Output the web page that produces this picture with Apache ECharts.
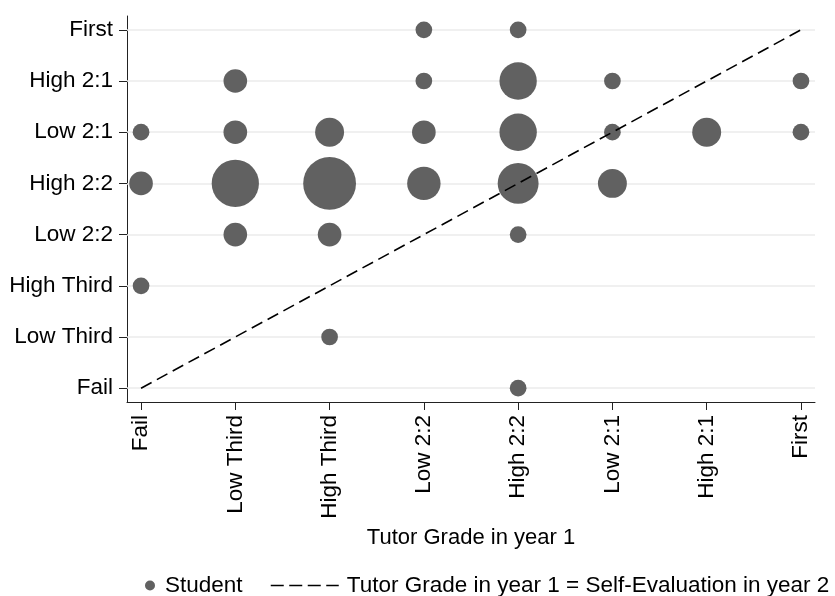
<!DOCTYPE html>
<html>
<head>
<meta charset="utf-8">
<script src="https://cdn.jsdelivr.net/npm/echarts@6/dist/echarts.min.js"></script>
<style>
html,body{margin:0;padding:0;background:#fff;}
#chart{width:835px;height:596px;}
</style>
</head>
<body>
<div id="chart"></div>
<script>
// Grade categories (shared by both axes)
const grades = ['Fail', 'Low Third', 'High Third', 'Low 2:2', 'High 2:2', 'Low 2:1', 'High 2:1', 'First'];
// Student bubbles: tutor grade (x index), self-evaluation (y index), number of students
const tutorIdx = [3, 4, 1, 3, 4, 5, 7, 0, 1, 2, 3, 4, 5, 6, 7, 0, 1, 2, 3, 4, 5, 1, 2, 4, 0, 2, 4];
const selfIdx  = [7, 7, 6, 6, 6, 6, 6, 5, 5, 5, 5, 5, 5, 5, 5, 4, 4, 4, 4, 4, 4, 3, 3, 3, 2, 1, 0];
const counts   = [1, 1, 2, 1, 5, 1, 1, 1, 2, 3, 2, 5, 1, 3, 1, 2, 8, 10, 4, 6, 3, 2, 2, 1, 1, 1, 1];
// Equality line endpoints (grade indices)
const eqLine = [[0, 0], [7, 7]];

const tickVals = grades.map((g, i) => i);
const scatterData = counts.map((c, i) => [tutorIdx[i], selfIdx[i], c]);
const lineName = 'Tutor Grade in year 1 = Self-Evaluation in year 2';
const FONT = 'Liberation Sans, Arial, sans-serif';
const FS = 22.5;

const chart = echarts.init(document.getElementById('chart'), null, {renderer: 'canvas'});
chart.setOption({
  animation: false,
  backgroundColor: '#fff',
  textStyle: {fontFamily: FONT, color: '#000'},
  grid: {left: 127, right: 20, top: 16, bottom: 194, containLabel: false},
  xAxis: {
    type: 'value', min: -0.149, max: 7.149,
    name: 'Tutor Grade in year 1', nameLocation: 'middle', nameGap: 124,
    nameTextStyle: {fontSize: 22, fontFamily: FONT, color: '#000'},
    axisLine: {show: true, onZero: false, lineStyle: {color: '#222', width: 1}},
    axisTick: {show: true, length: 8, customValues: tickVals, lineStyle: {color: '#222', width: 1}},
    axisLabel: {show: true, customValues: tickVals, rotate: 90, margin: 13, fontSize: FS, color: '#000', fontFamily: FONT,
      formatter: v => grades[Math.round(v)]},
    splitLine: {show: false}
  },
  yAxis: {
    type: 'value', min: -0.27, max: 7.27,
    axisLine: {show: true, onZero: false, lineStyle: {color: '#222', width: 1}},
    axisTick: {show: true, length: 8, customValues: tickVals, lineStyle: {color: '#222', width: 1}},
    axisLabel: {show: true, customValues: tickVals, margin: 14, fontSize: FS, color: '#000', fontFamily: FONT,
      formatter: v => grades[Math.round(v)]},
    splitLine: {show: false}
  },
  legend: [
    {
      data: [{name: 'Student', icon: 'circle'}],
      left: 140, top: 569, itemWidth: 20, itemHeight: 10,
      textStyle: {fontSize: FS, color: '#000', fontFamily: FONT}
    },
    {
      data: [lineName],
      left: 265, top: 569, itemWidth: 68, itemHeight: 14, itemGap: 0,
      lineStyle: {type: [13, 5.5], width: 1.5, color: '#000'},
      itemStyle: {opacity: 0, color: 'rgba(0,0,0,0)', borderWidth: 0},
      textStyle: {fontSize: FS, color: '#000', fontFamily: FONT, padding: [0, 0, 0, 3]}
    }
  ],
  series: [
    {
      name: 'grid', type: 'line', data: [], z: 1, silent: true,
      markLine: {
        silent: true, z: 1, symbol: ['none', 'none'], label: {show: false},
        lineStyle: {type: 'solid', color: '#ebebeb', width: 1.5},
        emphasis: {disabled: true},
        data: tickVals.map(v => ({yAxis: v}))
      }
    },
    {
      name: 'Student', type: 'scatter', z: 2,
      data: scatterData,
      symbol: 'circle',
      symbolSize: d => 16.7 * Math.sqrt(d[2]),
      itemStyle: {color: '#616161', opacity: 1}
    },
    {
      name: lineName, type: 'line', z: 3,
      data: eqLine, symbol: 'none', showSymbol: false,
      lineStyle: {type: [12, 6], width: 1.6, color: '#000'},
      itemStyle: {color: '#000'}
    }
  ]
});
</script>
</body>
</html>
